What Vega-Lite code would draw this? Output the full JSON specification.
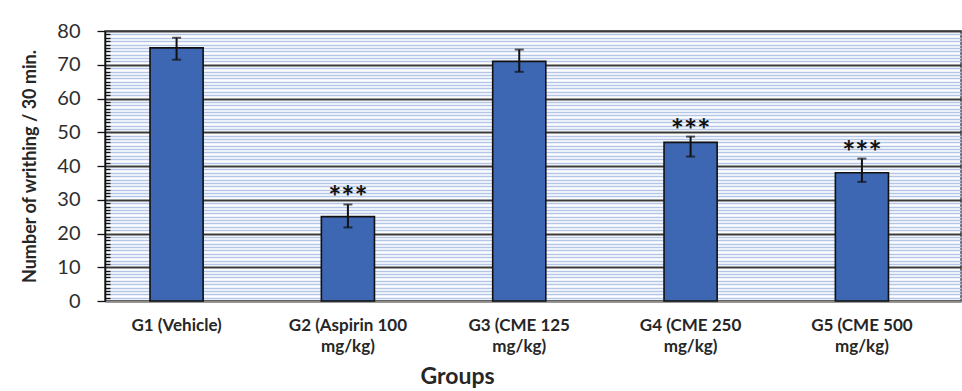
{
  "$schema": "https://vega.github.io/schema/vega-lite/v6.json",
  "autosize": {"type": "none"},
  "width": 856,
  "height": 270,
  "padding": {"left": 105, "top": 31, "right": 1, "bottom": 90},
  "background": "white",
  "config": {
    "view": {"stroke": "#404040", "strokeWidth": 1.5},
    "font": "Lato"
  },
  "data": {
    "values": [
      {"group": "G1 (Vehicle)", "mean": 75, "low": 71.5, "high": 78, "sig": ""},
      {"group": "G2 (Aspirin 100 mg/kg)", "mean": 25, "low": 21.8, "high": 28.6, "sig": "***"},
      {"group": "G3 (CME 125 mg/kg)", "mean": 71, "low": 67.9, "high": 74.5, "sig": ""},
      {"group": "G4 (CME 250 mg/kg)", "mean": 47, "low": 42.8, "high": 48.7, "sig": "***"},
      {"group": "G5 (CME 500 mg/kg)", "mean": 38, "low": 35.3, "high": 42.2, "sig": "***"}
    ]
  },
  "encoding": {
    "x": {
      "field": "group",
      "type": "nominal",
      "sort": null,
      "scale": {"paddingInner": 0.69, "paddingOuter": 0.343, "align": 0.383},
      "axis": {
        "title": "Groups",
        "labelAngle": 0,
        "labelExpr": "indexof(datum.label, ' mg/kg)') > 0 ? [replace(datum.label, ' mg/kg)', ''), 'mg/kg)'] : datum.label",
        "labelFont": "Lato",
        "labelFontWeight": "bold",
        "labelFontSize": 17,
        "labelColor": "#262626",
        "labelLineHeight": 21,
        "labelPadding": 16,
        "ticks": false,
        "domainColor": "#8c8c8c",
        "domainWidth": 1.5,
        "titleFont": "Lato",
        "titleFontSize": 23,
        "titleFontWeight": "bold",
        "titleColor": "#262626",
        "titleX": 352,
        "titleY": 82,
        "titleAnchor": null,
        "titleAlign": "center",
        "titleBaseline": "alphabetic"
      }
    }
  },
  "layer": [
    {
      "mark": {"type": "bar", "color": "#3d66b3", "stroke": "#111111", "strokeWidth": 1.6},
      "encoding": {
        "y": {
          "field": "mean",
          "type": "quantitative",
          "scale": {"domain": [0, 80], "nice": false},
          "axis": {
            "title": "Number of writhing / 30 min.",
            "tickCount": 80,
            "labelExpr": "datum.value % 10 === 0 ? datum.label : ''",
            "labelOverlap": false,
            "labelFont": "Lato",
            "labelFontSize": 20,
            "labelColor": "#2e2e2e",
            "labelPadding": 17,
            "grid": true,
            "gridColor": {"condition": {"test": "datum.value % 10 === 0", "value": "#3a3a3a"}, "value": "#b3c6e8"},
            "gridWidth": {"condition": {"test": "datum.value % 10 === 0", "value": 1.8}, "value": 1.7},
            "tickColor": "#111111",
            "tickWidth": 1.3,
            "tickSize": {"condition": {"test": "datum.value % 10 === 0", "value": 8}, "value": -5},
            "domainColor": "#111111",
            "domainWidth": 1.5,
            "titleFont": "Lato",
            "titleFontSize": 18,
            "titleFontWeight": "bold",
            "titleColor": "#262626",
            "titlePadding": 17
          }
        }
      }
    },
    {
      "mark": {"type": "rule", "color": "#111111", "strokeWidth": 2},
      "encoding": {
        "y": {"field": "low", "type": "quantitative"},
        "y2": {"field": "high"}
      }
    },
    {
      "mark": {"type": "tick", "color": "#111111", "thickness": 2, "size": 9},
      "encoding": {"y": {"field": "low", "type": "quantitative"}}
    },
    {
      "mark": {"type": "tick", "color": "#111111", "thickness": 2, "size": 9},
      "encoding": {"y": {"field": "high", "type": "quantitative"}}
    },
    {
      "mark": {"type": "text", "font": "Lato", "fontSize": 31, "fontWeight": "bold", "color": "#111111", "baseline": "middle", "dy": -5},
      "encoding": {
        "y": {"field": "high", "type": "quantitative"},
        "text": {"field": "sig"}
      }
    }
  ]
}
